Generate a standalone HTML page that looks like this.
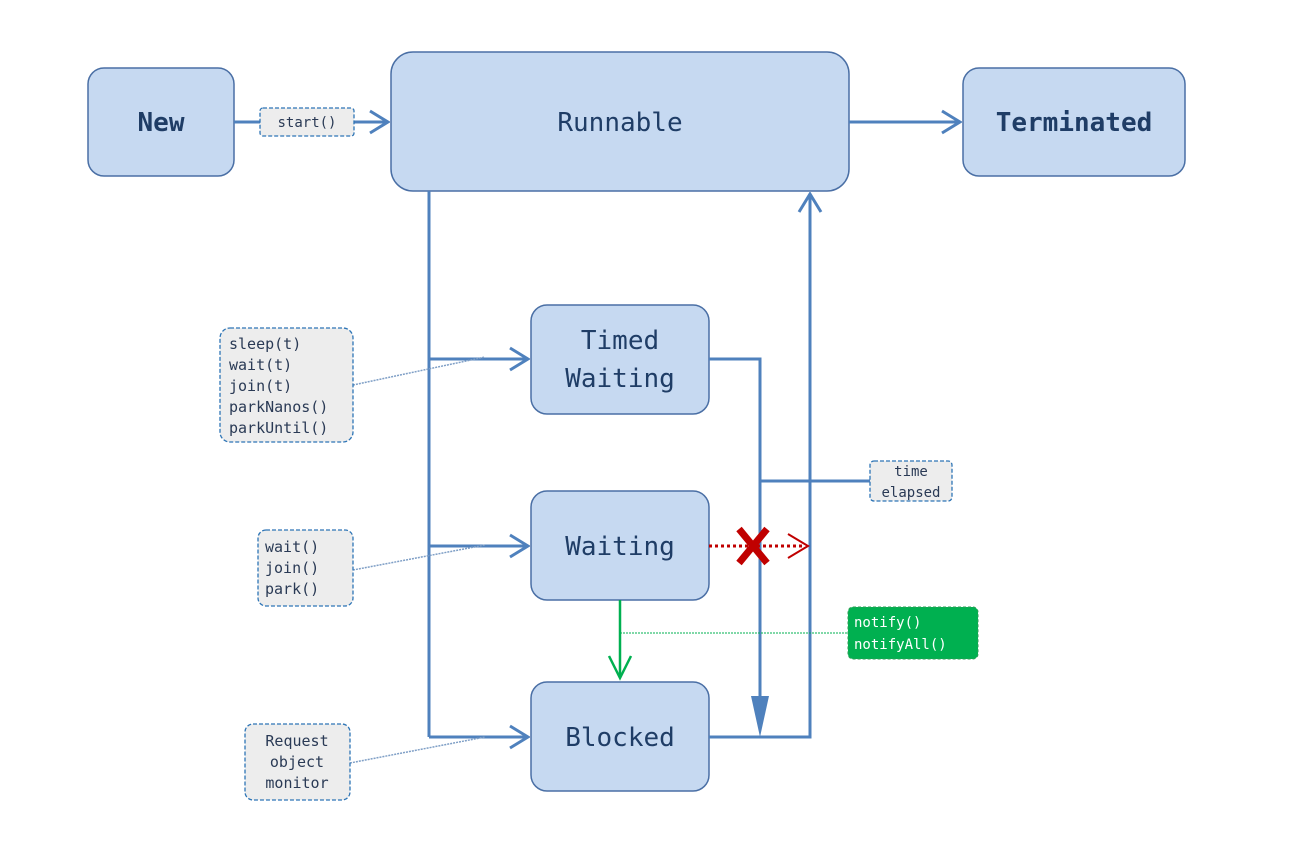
<!DOCTYPE html>
<html><head><meta charset="utf-8"><style>
html,body{margin:0;padding:0;background:#fff;}
svg text{font-family:"DejaVu Sans Mono","Liberation Mono",monospace;}
</style></head><body>
<svg width="1300" height="852" viewBox="0 0 1300 852" xmlns="http://www.w3.org/2000/svg">
<defs>
<marker id="open" markerWidth="22" markerHeight="26" refX="20" refY="13" orient="auto" markerUnits="userSpaceOnUse">
<path d="M2,2 L20,13 L2,24" fill="none" stroke="#4f81bd" stroke-width="3"/></marker>
</defs>
<g fill="#c6d9f1" stroke="#4a6fa5" stroke-width="1.5">
<rect x="88" y="68" width="146" height="108" rx="16"/>
<rect x="391" y="52" width="458" height="139" rx="22"/>
<rect x="963" y="68" width="222" height="108" rx="16"/>
<rect x="531" y="305" width="178" height="109" rx="16"/>
<rect x="531" y="491" width="178" height="109" rx="16"/>
<rect x="531" y="682" width="178" height="109" rx="16"/>
</g>
<g fill="#1f3d66" font-size="26" text-anchor="middle" font-weight="bold">
<text x="161" y="131">New</text>
<text x="1074" y="131">Terminated</text>
</g>
<g fill="#1f3d66" font-size="26" text-anchor="middle">
<text x="620" y="131">Runnable</text>
<text x="620" y="349">Timed</text>
<text x="620" y="387">Waiting</text>
<text x="620" y="555">Waiting</text>
<text x="620" y="746">Blocked</text>
</g>
<g stroke="#4f81bd" stroke-width="3" fill="none">
<line x1="234" y1="122" x2="388" y2="122" marker-end="url(#open)"/>
<line x1="849" y1="122" x2="960" y2="122" marker-end="url(#open)"/>
<polyline points="429,191 429,737"/>
<line x1="429" y1="359" x2="528" y2="359" marker-end="url(#open)"/>
<line x1="429" y1="546" x2="528" y2="546" marker-end="url(#open)"/>
<line x1="429" y1="737" x2="528" y2="737" marker-end="url(#open)"/>
<polyline points="709,359 760,359 760,710"/>
<polyline points="709,737 810,737 810,194" marker-end="url(#open)"/>
<line x1="760" y1="481" x2="870" y2="481"/>
</g>
<path d="M751,696 L769,696 L760,737 Z" fill="#4f81bd"/>
<line x1="709" y1="546" x2="805" y2="546" stroke="#c00000" stroke-width="3" stroke-dasharray="3,3"/>
<path d="M788,534 L808,546 L788,558" fill="none" stroke="#c00000" stroke-width="2"/>
<path d="M739,529 L767,563 M767,529 L739,563" stroke="#c00000" stroke-width="7"/>
<line x1="620" y1="600" x2="620" y2="676" stroke="#00b050" stroke-width="2.5"/>
<path d="M609,656 L620,678 L631,656" fill="none" stroke="#00b050" stroke-width="2.5"/>
<line x1="620" y1="633" x2="848" y2="633" stroke="#00b050" stroke-width="1" stroke-dasharray="2,1"/>
<g stroke="#7f9fc6" stroke-width="1.5" stroke-dasharray="2,1" fill="none">
<line x1="353" y1="385" x2="485" y2="357"/>
<line x1="353" y1="570" x2="485" y2="545"/>
<line x1="350" y1="763" x2="485" y2="737"/>
</g>
<g fill="#ededed" stroke="#2e75b6" stroke-width="1.3" stroke-dasharray="4,2">
<rect x="260" y="108" width="94" height="28" rx="3"/>
<rect x="220" y="328" width="133" height="114" rx="10"/>
<rect x="258" y="530" width="95" height="76" rx="8"/>
<rect x="245" y="724" width="105" height="76" rx="8"/>
<rect x="870" y="461" width="82" height="40" rx="4"/>
</g>
<rect x="848" y="607" width="130" height="52" rx="5" fill="#00b050" stroke="#2e9e55" stroke-dasharray="3,2"/>
<g fill="#2a3a55" font-size="15">
<text x="307" y="127" text-anchor="middle" font-size="14">start()</text>
<text x="229" y="349">sleep(t)</text>
<text x="229" y="370">wait(t)</text>
<text x="229" y="391">join(t)</text>
<text x="229" y="412">parkNanos()</text>
<text x="229" y="433">parkUntil()</text>
<text x="265" y="552">wait()</text>
<text x="265" y="573">join()</text>
<text x="265" y="594">park()</text>
<g text-anchor="middle">
<text x="297" y="746">Request</text>
<text x="297" y="767">object</text>
<text x="297" y="788">monitor</text>
<text x="911" y="476" font-size="14">time</text>
<text x="911" y="497" font-size="14">elapsed</text>
</g>
<text x="854" y="627" fill="#ffffff" font-size="14">notify()</text>
<text x="854" y="649" fill="#ffffff" font-size="14">notifyAll()</text>
</g>
</svg>
</body></html>
